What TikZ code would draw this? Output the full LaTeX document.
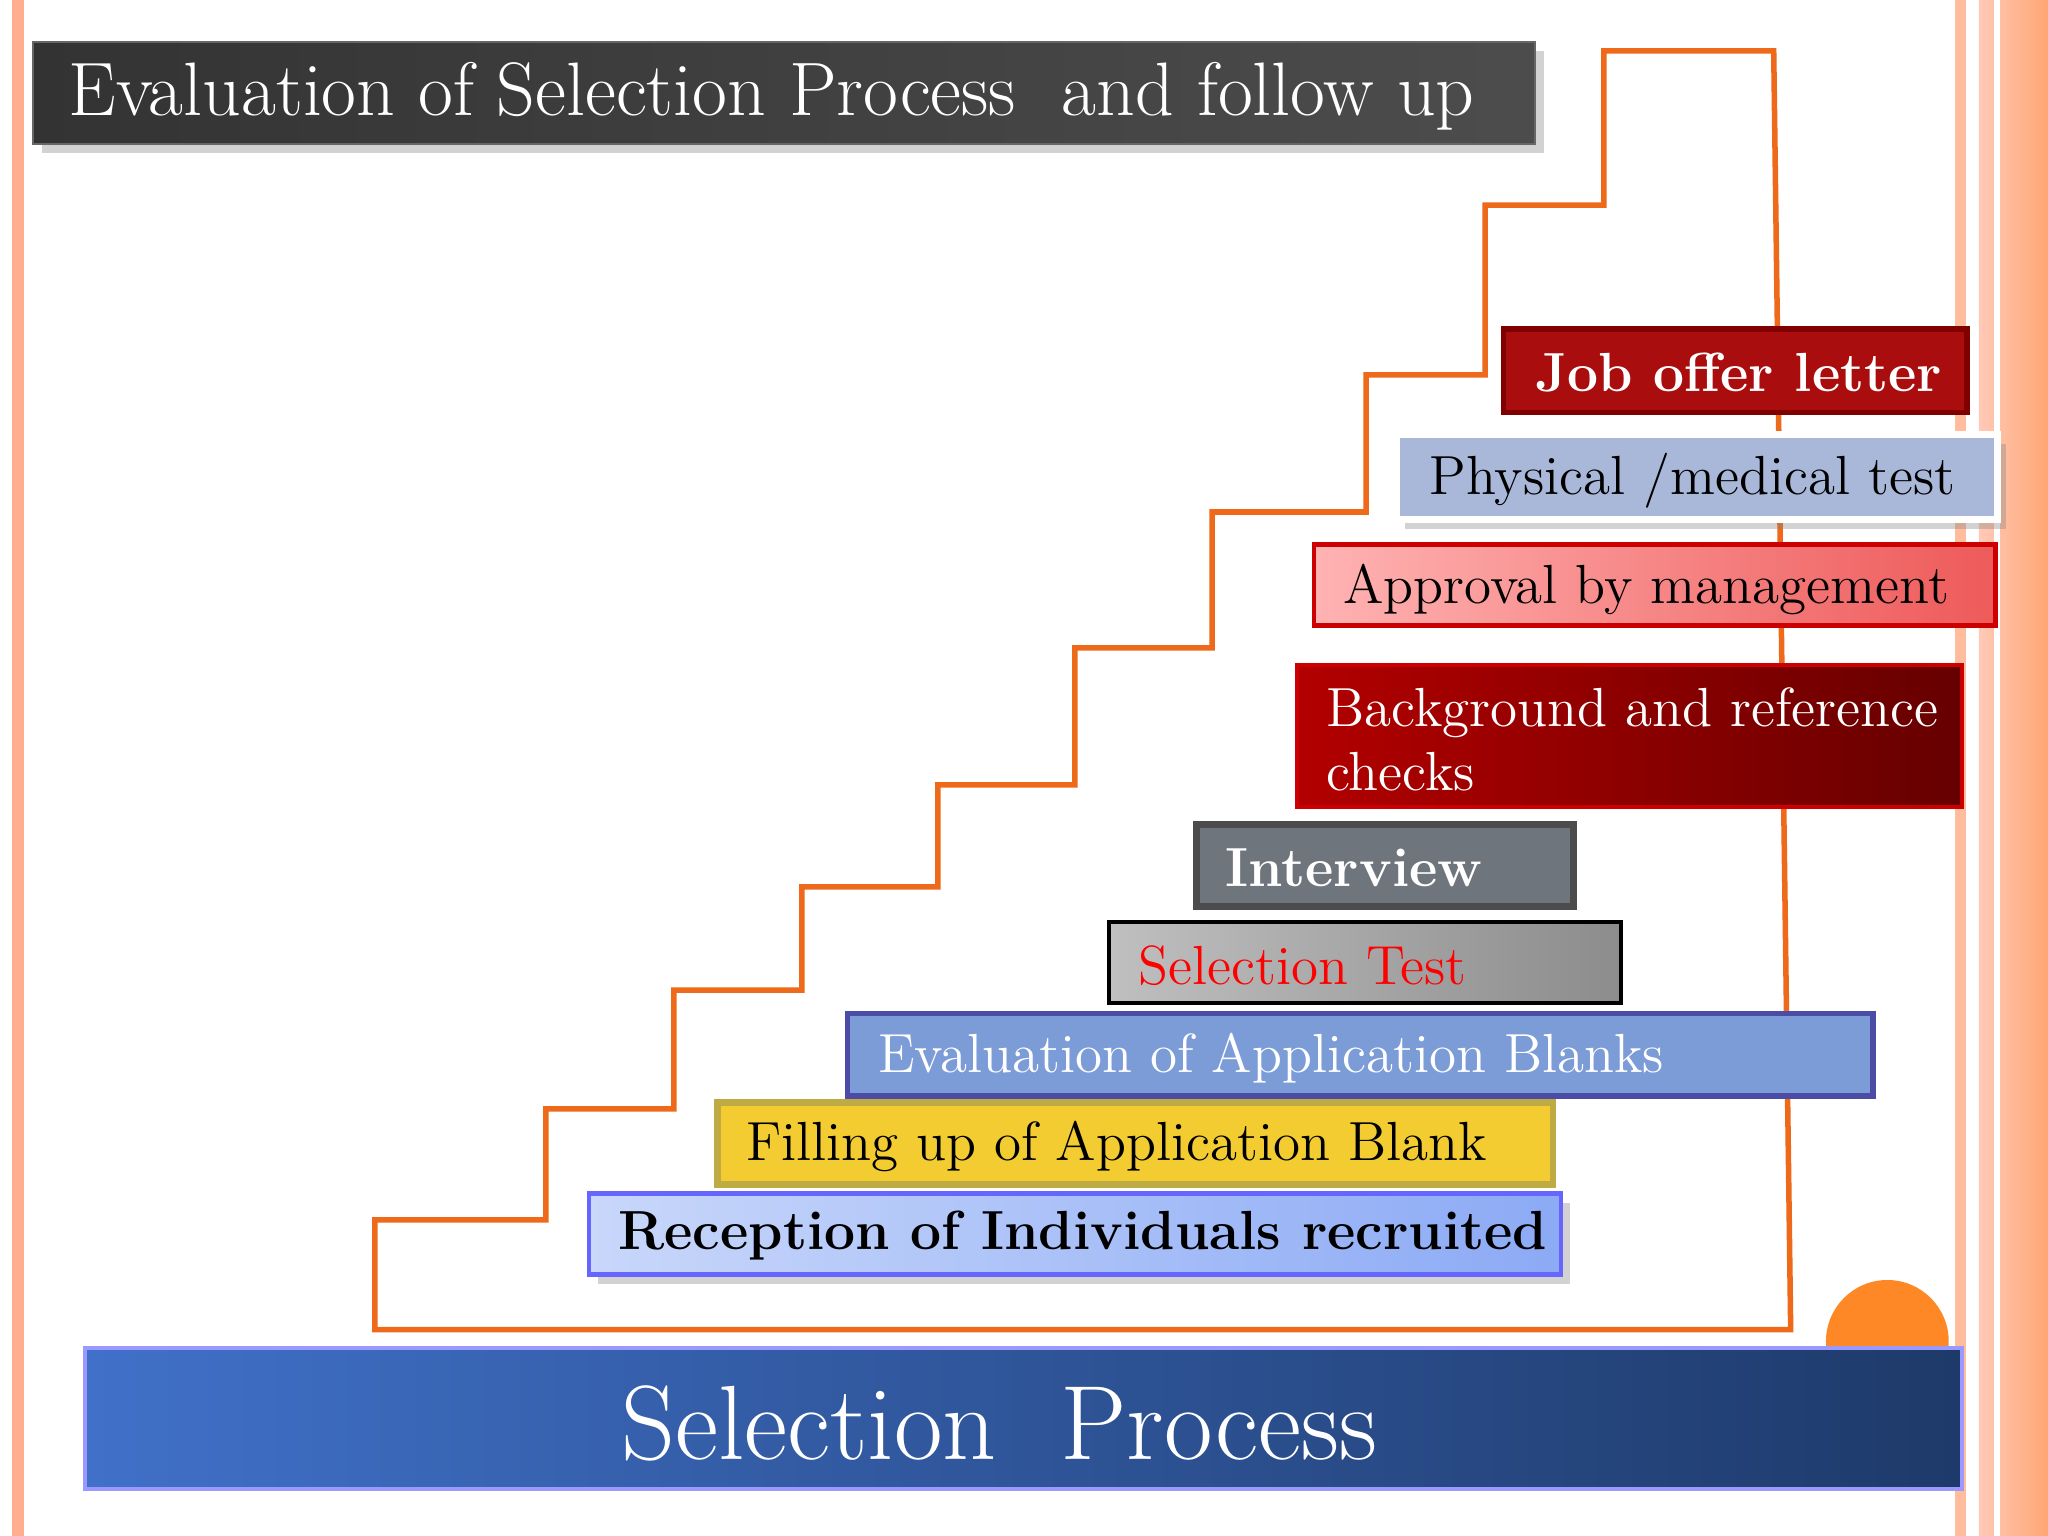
\documentclass[tikz,border=0pt]{standalone}
\usetikzlibrary{shadows}
\definecolor{stair}{HTML}{EE6A1A}
\tikzset{
 lbl/.style={anchor=west,font=\fontsize{12}{14}\selectfont},
 shd/.style={drop shadow={opacity=0.35,shadow xshift=2pt,shadow yshift=-2pt}}
}
\begin{document}
\begin{tikzpicture}[x=0.01cm,y=-0.01cm]
\useasboundingbox (0,0) rectangle (1568,1176);
\fill[white] (0,0) rectangle (1568,1176);
% borders
\fill[orange!25!pink] (9,0) rectangle (18,1176);
\fill[orange!30!pink!80] (1497,0) rectangle (1505,1176);
\shade[left color=orange!20!pink!70,right color=orange!40!pink] (1515,0) rectangle (1568,1176);
\fill[white] (1527,0) rectangle (1531,1176);
% title
\path[shd,left color=black!80,right color=black!70,draw=black!60,line width=0.5pt] (25,32) rectangle (1175,110);
\node[anchor=west,text=white,font=\fontsize{16.5}{19}\selectfont] (tt) at (40,74) {Evaluation of Selection Process\ \ and follow up};
% orange circle
\fill[orange!90!red!85] (1445,1027) circle (47);
% stairs
\coordinate (s0) at (287,1018);
\draw[stair,line width=1.2pt] (s0) -- (287,934) -- (418,934) -- (418,849) -- (516,849) -- (516,758) -- (614,758) -- (614,679) -- (718,679) -- (718,601) -- (823,601) -- (823,496) -- (928,496) -- (928,392) -- (1046,392) -- (1046,287) -- (1137,287) -- (1137,157) -- (1228,157) -- (1228,39) -- (1358,39) -- (1371,1018) -- cycle;
% boxes
\path[fill=red!65!black!95,draw=red!50!black,line width=1.2pt] (1151,252) rectangle (1506,316);
\node[lbl,text=white,font=\bfseries\fontsize{12}{14}\selectfont] (job) at (1163,285) {Job offer letter};
\path[fill={rgb,255:red,169;green,184;blue,216},draw=white,line width=1.5pt,shd] (1069,333) rectangle (1529,398);
\node[lbl] (phy) at (1082,368) {Physical /medical test};
\path[left color=red!30!white,right color={rgb,255:red,238;green,90;blue,90},draw=red!80!black,line width=1pt] (1006,417) rectangle (1528,479);
\node[lbl] (app) at (1016,451) {Approval by management};
\path[left color=red!70!black,right color=red!40!black,draw=red!80!black,line width=1pt] (993,509) rectangle (1502,618);
\node[lbl,text=white,align=left] (bg) at (1003,566) {Background and reference\\checks};
\path[fill={rgb,255:red,110;green,117;blue,124},draw=black!70,line width=1.5pt] (916,631) rectangle (1205,694);
\node[lbl,text=white,font=\bfseries\fontsize{12}{14}\selectfont] (int) at (926,664) {Interview};
\path[left color=black!25,right color=black!45,draw=black,line width=1pt] (849,706) rectangle (1241,768);
\node[lbl,text=red] (sel) at (859,739) {Selection Test};
\path[fill={rgb,255:red,124;green,156;blue,216},draw=black!50!blue!70,line width=1.2pt] (649,776) rectangle (1434,839);
\node[lbl,text=white] (eva) at (660,810) {Evaluation of Application Blanks};
\path[fill={rgb,255:red,242;green,204;blue,48},draw=black!30!yellow!70!brown,line width=1.5pt] (549,844) rectangle (1189,907);
\node[lbl] (fil) at (559,878) {Filling up of Application Blank};
\path[left color={rgb,255:red,200;green,215;blue,250},right color={rgb,255:red,140;green,170;blue,245},draw=blue!60,line width=1pt,shd] (451,914) rectangle (1195,976);
\node[lbl,font=\bfseries\fontsize{12}{14}\selectfont] (rec) at (461,946) {Reception of Individuals recruited};
% bottom bar
\path[left color={rgb,255:red,64;green,112;blue,200},right color={rgb,255:red,30;green,58;blue,106},draw=blue!40,line width=1pt] (65,1032) rectangle (1502,1140);
\node[text=white,font=\fontsize{23}{26}\selectfont] (sp) at (765,1090) {Selection\ \ Process};
\end{tikzpicture}
\end{document}
